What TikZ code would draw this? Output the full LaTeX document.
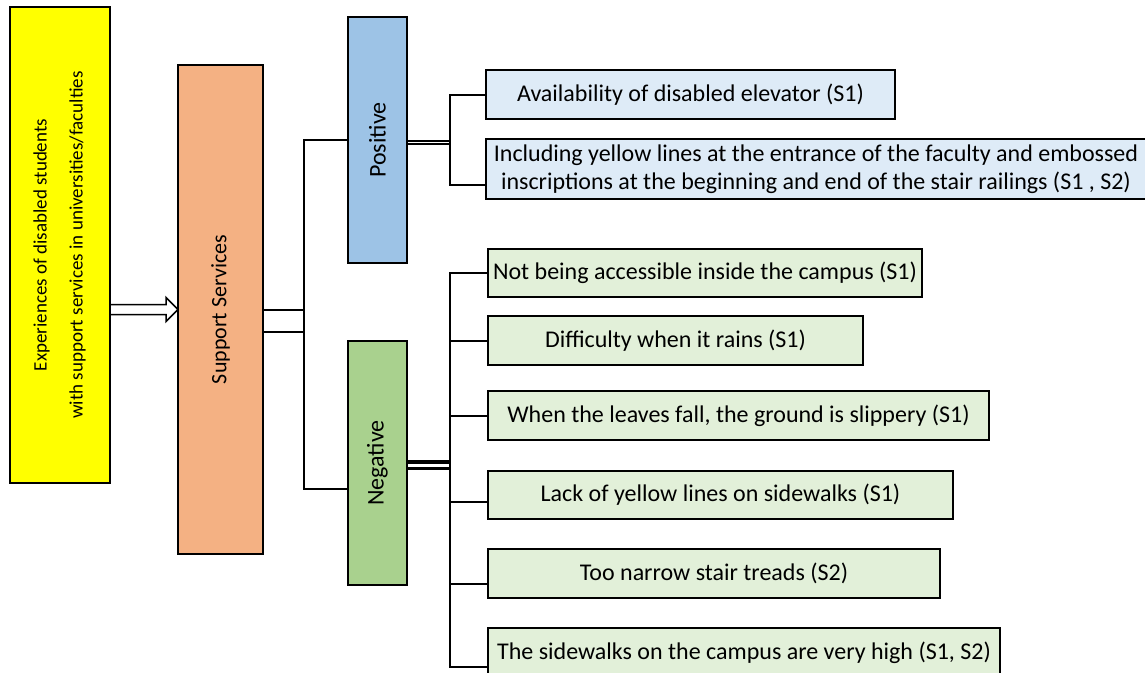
\documentclass[tikz,border=0pt]{standalone}
\usepackage{fontspec}
\setmainfont{Carlito}
\usetikzlibrary{arrows.meta,backgrounds}
\definecolor{cyel}{HTML}{FFFF00}
\definecolor{corg}{HTML}{F4B183}
\definecolor{cblu}{HTML}{9DC3E6}
\definecolor{cgrn}{HTML}{A9D18E}
\definecolor{lblu}{HTML}{DEEBF7}
\definecolor{lgrn}{HTML}{E2F0D9}
\begin{document}
\begin{tikzpicture}[x=1pt,y=-1pt,
  font=\fontsize{24}{28}\selectfont,
  box/.style={draw=black, line width=2pt, inner sep=0pt, outer sep=0pt, align=center},
  conn/.style={draw=black, line width=2pt},
  dbl/.style={draw=black, line width=2pt, double=white, double distance=20pt},
  arrowline/.style={draw=black, line width=1.5pt, line join=miter}]
\clip (0,0) rectangle (1145,672);
% main boxes
\node[box, fill=cyel, minimum width=100pt, minimum height=476pt] (yel) at (60,245)
  {\rotatebox{90}{\fontsize{19}{23}\selectfont\begin{tabular}{@{}c@{}}Experiences of disabled students\\[13pt]with support services in universities/faculties\end{tabular}}};
\node[box, fill=corg, minimum width=85pt, minimum height=489pt] (sup) at (220.5,309.5)
  {\rotatebox{90}{\fontsize{22}{26}\selectfont Support Services}};
\node[box, fill=cblu, minimum width=59pt, minimum height=246pt] (pos) at (377.5,140)
  {\rotatebox{90}{Positive}};
\node[box, fill=cgrn, minimum width=59pt, minimum height=244pt] (neg) at (377.5,463)
  {\rotatebox{90}{Negative}};
% positive items
\node[box, fill=lblu, minimum width=409pt, minimum height=49pt] (p1) at (690.5,94.5)
  {Availability of disabled elevator (S1)};
\node[box, fill=lblu, minimum width=660pt, minimum height=60pt] (p2) at (816,169)
  {Including yellow lines at the entrance of the faculty and embossed\\inscriptions at the beginning and end of the stair railings (S1 , S2)};
% negative items
\node[box, fill=lgrn, minimum width=434pt, minimum height=48pt] (n1) at (705,273)
  {Not being accessible inside the campus (S1)};
\node[box, fill=lgrn, minimum width=375pt, minimum height=49pt] (n2) at (675.5,340.5)
  {Difficulty when it rains (S1)};
\node[box, fill=lgrn, minimum width=501pt, minimum height=49pt] (n3) at (738.5,415.5)
  {When the leaves fall, the ground is slippery (S1)};
\node[box, fill=lgrn, minimum width=465pt, minimum height=48pt] (n4) at (720.5,495)
  {Lack of yellow lines on sidewalks (S1)};
\node[box, fill=lgrn, minimum width=452pt, minimum height=49pt] (n5) at (714,573.5)
  {Too narrow stair treads (S2)};
\node[box, fill=lgrn, minimum width=512pt, minimum height=49pt] (n6) at (744,652.5)
  {The sidewalks on the campus are very high (S1, S2)};
\coordinate (sb) at (304,321);
\coordinate (pb) at (450,142.5);
\coordinate (nb) at (450,465);
\path (sup.west -| yel.east) coordinate (a0);
\begin{scope}[on background layer]
  \fill[white] (0,0) rectangle (1145,672);
  % block arrow from main box to support services
  \draw[arrowline] ([yshift=5pt]a0) -- ([xshift=-12pt,yshift=5pt]sup.west)
    -- ([xshift=-12pt,yshift=12pt]sup.west) -- (sup.west)
    -- ([xshift=-12pt,yshift=-12pt]sup.west) -- ([xshift=-12pt,yshift=-5pt]sup.west)
    -- ([yshift=-5pt]a0);
  % support services to bracket
  \draw[dbl] (sup.east |- sb) -- (sb);
  \draw[conn] (pos.west) -| (sb) |- ([yshift=-26pt]neg.west);
  % positive
  \draw[draw=black, line width=1.5pt, double=white, double distance=1.5pt] (pos.east |- pb) -- (pb);
  \draw[conn] (p1.west) -| (pb) |- ([yshift=-16pt]p2.west);
  % negative
  \draw[draw=black, line width=3.5pt, double=white, double distance=3pt] (neg.east |- nb) -- (nb);
  \draw[conn] (n1.west) -| (nb) |- ([yshift=-14pt]n6.west);
  \draw[conn] (n2.west) -- (n2.west -| nb);
  \draw[conn] (n3.west) -- (n3.west -| nb);
  \draw[conn] ([yshift=-7pt]n4.west) -- ([yshift=-7pt]n4.west -| nb);
  \draw[conn] ([yshift=-10.5pt]n5.west) -- ([yshift=-10.5pt]n5.west -| nb);
\end{scope}
\end{tikzpicture}
\end{document}
